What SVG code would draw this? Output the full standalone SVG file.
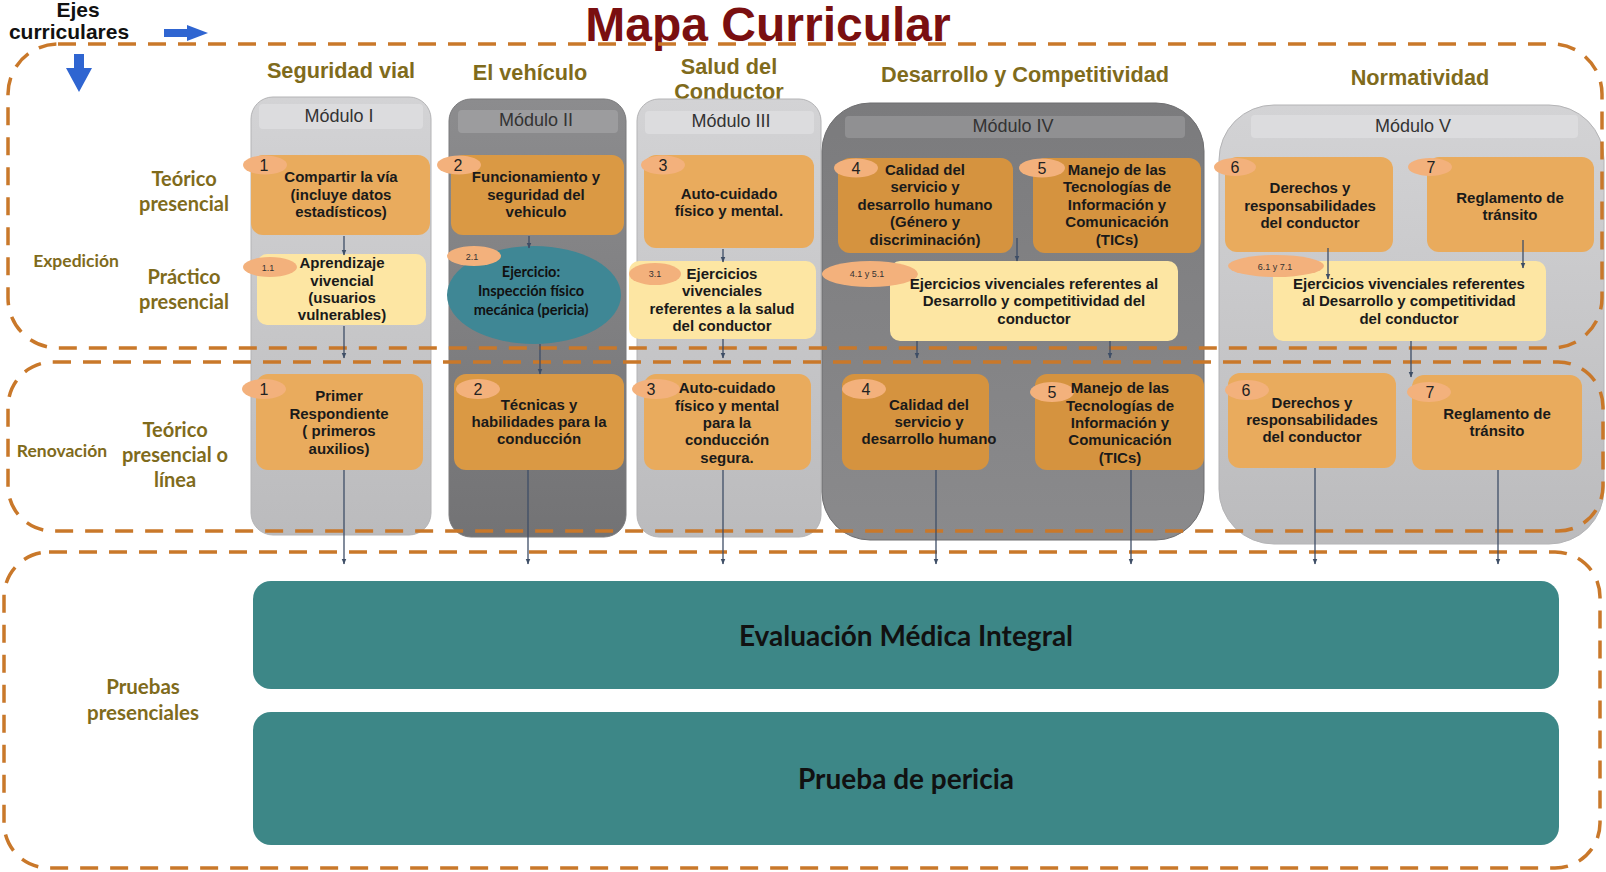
<svg xmlns="http://www.w3.org/2000/svg" width="1606" height="872" viewBox="0 0 1606 872">
<defs>
<linearGradient id="gLight" x1="0" y1="0" x2="0" y2="1">
<stop offset="0" stop-color="#d3d3d5"/><stop offset="1" stop-color="#bbbbbd"/>
</linearGradient>
<linearGradient id="gDark" x1="0" y1="0" x2="0" y2="1">
<stop offset="0" stop-color="#8c8c8e"/><stop offset="1" stop-color="#737375"/>
</linearGradient>
<linearGradient id="gDark4" x1="0" y1="0" x2="0" y2="1">
<stop offset="0" stop-color="#7b7b7d"/><stop offset="1" stop-color="#8a8a8c"/>
</linearGradient>
<marker id="arr" viewBox="0 0 10 10" refX="9" refY="5" markerWidth="6" markerHeight="6" orient="auto" markerUnits="userSpaceOnUse">
<path d="M0,1 L10,5 L0,9 z" fill="#3e4e66"/>
</marker>
<style>
.title{font-family:"Liberation Sans",Arial,sans-serif;font-weight:bold;font-size:48px;fill:#7a0f10;text-anchor:middle}
.ejes{font-family:"Liberation Sans",Arial,sans-serif;font-weight:bold;font-size:21px;fill:#111;text-anchor:middle}
.head{font-family:"Liberation Sans",Arial,sans-serif;font-weight:bold;font-size:21.7px;fill:#7f6b1c;text-anchor:middle}
.lab{font-family:Lato,"Liberation Sans",sans-serif;font-weight:bold;font-size:20px;fill:#7f6b1c;text-anchor:middle}
.lab3{font-family:Lato,"Liberation Sans",sans-serif;font-weight:bold;font-size:20.5px;fill:#7f6b1c;text-anchor:middle}
.lab2{font-family:Lato,"Liberation Sans",sans-serif;font-weight:bold;font-size:17.5px;fill:#7f6b1c;text-anchor:middle}
.mod{font-family:"Liberation Sans",Arial,sans-serif;font-size:18px;fill:#333;text-anchor:middle}
.bx{font-family:"Liberation Sans",Arial,sans-serif;font-weight:bold;font-size:15px;fill:#1a1a1a;text-anchor:middle}
.ell{font-family:Lato,"Liberation Sans",sans-serif;font-weight:bold;font-size:14.5px;fill:#111;text-anchor:middle}
.num{font-family:"Liberation Sans",Arial,sans-serif;font-size:16px;fill:#222;text-anchor:middle}
.snum{font-family:"Liberation Sans",Arial,sans-serif;font-size:9px;fill:#333;text-anchor:middle}
.big{font-family:Lato,"Liberation Sans",sans-serif;font-weight:bold;font-size:28px;fill:#111;text-anchor:middle}
.light{fill:url(#gLight);stroke:#b4b4b6;stroke-width:1}
.dark{fill:url(#gDark);stroke:#7a7a7c;stroke-width:1}
.stripL{fill:#dcdcde}
.stripD{fill:#9c9c9e}
.o1{fill:#e9ab5d}
.o2{fill:#da9944}
.o4{fill:#d5933f}
.y{fill:#fde6a3}
.badge{fill:#f3b17c}
.dash{fill:none;stroke:#c9782a;stroke-width:3.5;stroke-dasharray:18 12}
.teal{fill:#3d8787}
.con{stroke:#3e4e66;stroke-width:1.3;fill:none;marker-end:url(#arr)}
.blue{fill:#2f65d1}
</style>
</defs>
<rect width="1606" height="872" fill="#ffffff"/>

<!-- title and axis labels -->
<text class="title" x="768" y="41">Mapa Curricular</text>
<text class="ejes" x="78" y="17">Ejes</text>
<text class="ejes" x="69" y="39">curriculares</text>
<path class="blue" d="M164,29 L187,29 L187,25 L208,33 L187,41 L187,37 L164,37 z"/>
<path class="blue" d="M74,54 L84,54 L84,68 L92,68 L79,92 L66,68 L74,68 z"/>

<text class="head" x="341" y="78">Seguridad vial</text>
<text class="head" x="530" y="80">El vehículo</text>
<text class="head" x="729" y="74">Salud del</text>
<text class="head" x="729" y="99">Conductor</text>
<text class="head" x="1025" y="82">Desarrollo y Competitividad</text>
<text class="head" x="1420" y="85">Normatividad</text>

<text class="lab" x="184" y="186">Teórico</text>
<text class="lab" x="184" y="211">presencial</text>
<text class="lab2" x="76" y="267">Expedición</text>
<text class="lab" x="184" y="284">Práctico</text>
<text class="lab" x="184" y="309">presencial</text>
<text class="lab2" x="62" y="457">Renovación</text>
<text class="lab" x="175" y="437">Teórico</text>
<text class="lab" x="175" y="462">presencial o</text>
<text class="lab" x="175" y="487">línea</text>
<text class="lab3" x="143" y="694">Pruebas</text>
<text class="lab3" x="143" y="720">presenciales</text>

<!-- modules -->
<g id="modulo1">
<rect class="light" x="251" y="97" width="180" height="438" rx="22"/>
<rect class="stripL" x="259" y="104" width="164" height="25" rx="4"/>
<text class="mod" x="339" y="122">Módulo I</text>
</g>
<g id="modulo2">
<rect class="dark" x="449" y="99" width="177" height="438" rx="22"/>
<rect class="stripD" x="458" y="110" width="160" height="23" rx="4"/>
<text class="mod" x="536" y="126">Módulo II</text>
</g>
<g id="modulo3">
<rect class="light" x="637" y="99" width="184" height="438" rx="22"/>
<rect class="stripL" x="645" y="111" width="169" height="23" rx="4"/>
<text class="mod" x="731" y="127">Módulo III</text>
</g>
<g id="modulo4">
<rect x="822" y="103" width="382" height="437" rx="48" fill="url(#gDark4)" stroke="#6f6f71"/>
<rect x="845" y="116" width="340" height="22" rx="4" fill="#909092"/>
<text class="mod" x="1013" y="132">Módulo IV</text>
</g>
<g id="modulo5">
<rect class="light" x="1219" y="105" width="385" height="439" rx="55"/>
<rect class="stripL" x="1251" y="115" width="327" height="23" rx="4"/>
<text class="mod" x="1413" y="132">Módulo V</text>
</g>

<!-- row 1: teórico presencial (expedición) -->
<g id="n1">
<rect class="o1" x="251" y="155" width="179" height="80" rx="12"/>
<ellipse class="badge" cx="265" cy="165" rx="22" ry="9.5"/>
<text class="num" x="264" y="171">1</text>
<text class="bx"><tspan x="341" y="182">Compartir la vía</tspan><tspan x="341" y="200">(incluye datos</tspan><tspan x="341" y="217">estadísticos)</tspan></text>
</g>
<g id="n2">
<rect class="o2" x="451" y="155" width="173" height="80" rx="12"/>
<ellipse class="badge" cx="459" cy="165" rx="22" ry="9.5"/>
<text class="num" x="458" y="171">2</text>
<text class="bx"><tspan x="536" y="182">Funcionamiento y</tspan><tspan x="536" y="200">seguridad del</tspan><tspan x="536" y="217">vehiculo</tspan></text>
</g>
<g id="n3">
<rect class="o1" x="644" y="155" width="170" height="93" rx="12"/>
<ellipse class="badge" cx="663" cy="165" rx="22" ry="9.5"/>
<text class="num" x="663" y="171">3</text>
<text class="bx"><tspan x="729" y="199">Auto-cuidado</tspan><tspan x="729" y="216">físico y mental.</tspan></text>
</g>
<g id="n4">
<rect class="o4" x="838" y="158" width="175" height="95" rx="12"/>
<ellipse class="badge" cx="856" cy="168" rx="22" ry="9.5"/>
<text class="num" x="856" y="174">4</text>
<text class="bx"><tspan x="925" y="175">Calidad del</tspan><tspan x="925" y="192">servicio y</tspan><tspan x="925" y="210">desarrollo humano</tspan><tspan x="925" y="227">(Género y</tspan><tspan x="925" y="245">discriminación)</tspan></text>
</g>
<g id="n5">
<rect class="o4" x="1033" y="158" width="168" height="95" rx="12"/>
<ellipse class="badge" cx="1042" cy="168" rx="23" ry="9.5"/>
<text class="num" x="1042" y="174">5</text>
<text class="bx"><tspan x="1117" y="175">Manejo de las</tspan><tspan x="1117" y="192">Tecnologías de</tspan><tspan x="1117" y="210">Información y</tspan><tspan x="1117" y="227">Comunicación</tspan><tspan x="1117" y="245">(TICs)</tspan></text>
</g>
<g id="n6">
<rect class="o1" x="1225" y="157" width="168" height="95" rx="12" fill="#e6a755"/>
<ellipse class="badge" cx="1235" cy="167" rx="21" ry="9"/>
<text class="num" x="1235" y="173">6</text>
<text class="bx"><tspan x="1310" y="193">Derechos y</tspan><tspan x="1310" y="211">responsabilidades</tspan><tspan x="1310" y="228">del conductor</tspan></text>
</g>
<g id="n7">
<rect class="o1" x="1427" y="157" width="167" height="95" rx="12"/>
<ellipse class="badge" cx="1430" cy="167" rx="22" ry="9"/>
<text class="num" x="1431" y="173">7</text>
<text class="bx"><tspan x="1510" y="203">Reglamento de</tspan><tspan x="1510" y="220">tránsito</tspan></text>
</g>

<!-- row 2: práctico presencial -->
<g id="n1_1">
<rect class="y" x="257" y="254" width="169" height="71" rx="10"/>
<ellipse class="badge" cx="270" cy="267" rx="27" ry="10"/>
<text class="snum" x="268" y="271">1.1</text>
<text class="bx"><tspan x="342" y="268">Aprendizaje</tspan><tspan x="342" y="286">vivencial</tspan><tspan x="342" y="303">(usuarios</tspan><tspan x="342" y="320">vulnerables)</tspan></text>
</g>
<g id="n2_1">
<ellipse cx="534" cy="295" rx="87" ry="49" fill="#3f8795"/>
<ellipse class="badge" cx="474" cy="256" rx="27" ry="10"/>
<text class="snum" x="472" y="260">2.1</text>
<text class="ell"><tspan x="531" y="277">Ejercicio:</tspan><tspan x="531" y="296">Inspección físico</tspan><tspan x="531" y="315">mecánica (pericia)</tspan></text>
</g>
<g id="n3_1">
<rect class="y" x="629" y="261" width="187" height="78" rx="10"/>
<ellipse class="badge" cx="655" cy="274" rx="26" ry="11"/>
<text class="snum" x="655" y="277">3.1</text>
<text class="bx"><tspan x="722" y="279">Ejercicios</tspan><tspan x="722" y="296">vivenciales</tspan><tspan x="722" y="314">referentes a la salud</tspan><tspan x="722" y="331">del conductor</tspan></text>
</g>
<g id="n4_1">
<rect class="y" x="890" y="261" width="288" height="80" rx="10" fill="#fbe3a0"/>
<ellipse class="badge" cx="870" cy="274" rx="48" ry="13"/>
<text class="snum" x="867" y="277">4.1 y 5.1</text>
<text class="bx"><tspan x="1034" y="289">Ejercicios vivenciales referentes al</tspan><tspan x="1034" y="306">Desarrollo y competitividad del</tspan><tspan x="1034" y="324">conductor</tspan></text>
</g>
<g id="n6_1">
<rect class="y" x="1273" y="261" width="273" height="80" rx="10"/>
<ellipse class="badge" cx="1276" cy="266" rx="48" ry="11"/>
<text class="snum" x="1275" y="270">6.1 y 7.1</text>
<text class="bx"><tspan x="1409" y="289">Ejercicios vivenciales referentes</tspan><tspan x="1409" y="306">al Desarrollo y competitividad</tspan><tspan x="1409" y="324">del conductor</tspan></text>
</g>

<!-- row 3: renovación -->
<g id="r1">
<rect class="o1" x="256" y="374" width="167" height="96" rx="12"/>
<ellipse class="badge" cx="264" cy="389" rx="22" ry="10"/>
<text class="num" x="264" y="395">1</text>
<text class="bx"><tspan x="339" y="401">Primer</tspan><tspan x="339" y="419">Respondiente</tspan><tspan x="339" y="436">( primeros</tspan><tspan x="339" y="454">auxilios)</tspan></text>
</g>
<g id="r2">
<rect class="o2" x="454" y="374" width="170" height="96" rx="12"/>
<ellipse class="badge" cx="478" cy="389" rx="22" ry="10"/>
<text class="num" x="478" y="395">2</text>
<text class="bx"><tspan x="539" y="410">Técnicas y</tspan><tspan x="539" y="427">habilidades para la</tspan><tspan x="539" y="444">conducción</tspan></text>
</g>
<g id="r3">
<rect class="o1" x="644" y="374" width="167" height="96" rx="12"/>
<ellipse class="badge" cx="656" cy="389" rx="24" ry="10"/>
<text class="num" x="651" y="395">3</text>
<text class="bx"><tspan x="727" y="393">Auto-cuidado</tspan><tspan x="727" y="411">físico y mental</tspan><tspan x="727" y="428">para la</tspan><tspan x="727" y="445">conducción</tspan><tspan x="727" y="463">segura.</tspan></text>
</g>
<g id="r4">
<rect class="o4" x="842" y="374" width="147" height="96" rx="12"/>
<ellipse class="badge" cx="864" cy="389" rx="22" ry="10"/>
<text class="num" x="866" y="395">4</text>
<text class="bx"><tspan x="929" y="410">Calidad del</tspan><tspan x="929" y="427">servicio y</tspan><tspan x="929" y="444">desarrollo humano</tspan></text>
</g>
<g id="r5">
<rect class="o4" x="1035" y="374" width="169" height="96" rx="12"/>
<ellipse class="badge" cx="1052" cy="392" rx="22" ry="10"/>
<text class="num" x="1052" y="398">5</text>
<text class="bx"><tspan x="1120" y="393">Manejo de las</tspan><tspan x="1120" y="411">Tecnologías de</tspan><tspan x="1120" y="428">Información y</tspan><tspan x="1120" y="445">Comunicación</tspan><tspan x="1120" y="463">(TICs)</tspan></text>
</g>
<g id="r6">
<rect class="o1" x="1228" y="373" width="168" height="95" rx="12" fill="#e6a755"/>
<ellipse class="badge" cx="1247" cy="390" rx="22" ry="10"/>
<text class="num" x="1246" y="396">6</text>
<text class="bx"><tspan x="1312" y="408">Derechos y</tspan><tspan x="1312" y="425">responsabilidades</tspan><tspan x="1312" y="442">del conductor</tspan></text>
</g>
<g id="r7">
<rect class="o1" x="1412" y="375" width="170" height="95" rx="12" fill="#e6a755"/>
<ellipse class="badge" cx="1429" cy="392" rx="22" ry="10"/>
<text class="num" x="1430" y="398">7</text>
<text class="bx"><tspan x="1497" y="419">Reglamento de</tspan><tspan x="1497" y="436">tránsito</tspan></text>
</g>

<!-- pruebas presenciales -->
<g id="evaluacion">
<rect class="teal" x="253" y="581" width="1306" height="108" rx="18"/>
<text class="big" x="906" y="646">Evaluación Médica Integral</text>
</g>
<g id="pericia">
<rect class="teal" x="253" y="712" width="1306" height="133" rx="18"/>
<text class="big" x="906" y="789">Prueba de pericia</text>
</g>

<!-- dashed section borders -->
<g id="secciones">
<rect class="dash" x="8" y="44" width="1594" height="304" rx="50"/>
<rect class="dash" x="8" y="362" width="1595" height="169" rx="45"/>
<rect class="dash" x="4" y="552" width="1596" height="316" rx="45"/>
</g>

<!-- connectors -->
<g id="connectors">
<line class="con" x1="344" y1="236" x2="344" y2="255"/>
<line class="con" x1="344" y1="326" x2="344" y2="358"/>
<line class="con" x1="344" y1="470" x2="344" y2="564"/>
<line class="con" x1="529" y1="236" x2="529" y2="248"/>
<line class="con" x1="540" y1="344" x2="540" y2="374"/>
<line class="con" x1="528" y1="470" x2="528" y2="564"/>
<line class="con" x1="723" y1="249" x2="723" y2="262"/>
<line class="con" x1="723" y1="339" x2="723" y2="358"/>
<line class="con" x1="723" y1="470" x2="723" y2="564"/>
<line class="con" x1="1017" y1="238" x2="1017" y2="261"/>
<line class="con" x1="917" y1="341" x2="917" y2="358"/>
<line class="con" x1="1110" y1="341" x2="1110" y2="358"/>
<line class="con" x1="936" y1="470" x2="936" y2="564"/>
<line class="con" x1="1131" y1="470" x2="1131" y2="564"/>
<line class="con" x1="1328" y1="248" x2="1328" y2="279"/>
<line class="con" x1="1523" y1="240" x2="1523" y2="268"/>
<line class="con" x1="1411" y1="341" x2="1411" y2="377"/>
<line class="con" x1="1315" y1="468" x2="1315" y2="564"/>
<line class="con" x1="1498" y1="470" x2="1498" y2="564"/>
</g>
</svg>
